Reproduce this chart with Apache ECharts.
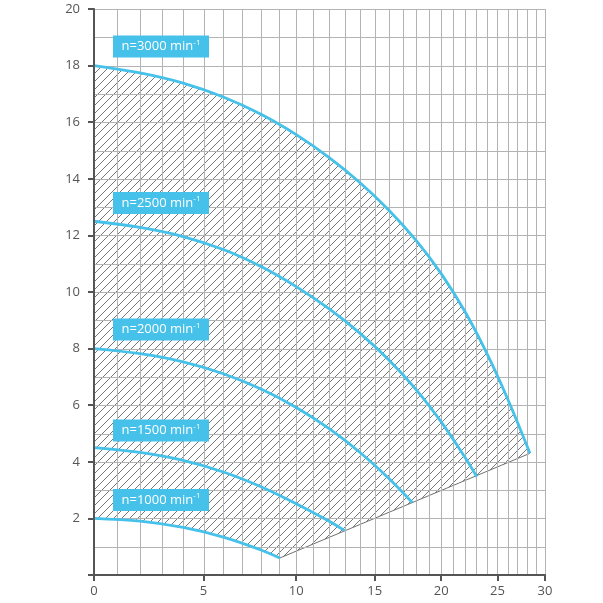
<!DOCTYPE html>
<html>
<head>
<meta charset="utf-8">
<script src="https://cdn.jsdelivr.net/npm/echarts@6/dist/echarts.min.js"></script>
<style>
  html, body { margin: 0; padding: 0; background: #fff; }
  #chart { width: 603px; height: 603px; }
</style>
</head>
<body>
<div id="chart"></div>
<script>
// flow axis is drawn on a compressed scale: u = 1 - exp(-Q/30)
const toU = q => 1 - Math.exp(-q / 30);
const fromU = u => -30 * Math.log(1 - u);

const xTickLabels = [0, 5, 10, 15, 20, 25, 30];
const xGridValues = [0, 1, 2, 3, 4, 5, 6, 7, 8, 9, 10, 11, 12, 13, 14, 15, 16, 17, 18, 19, 20,
    21, 22, 23, 24, 25, 26, 27, 28, 29, 30];
const yGridValues = [0, 1, 2, 3, 4, 5, 6, 7, 8, 9, 10, 11, 12, 13, 14, 15, 16, 17, 18, 19, 20];

const speeds = [3000, 2500, 2000, 1500, 1000];

// [flow, head]
const curve3000 = [[0, 18], [2, 17.74], [4, 17.38], [6, 16.89], [8, 16.28], [10, 15.56], [12, 14.75],
    [14, 13.86], [16, 12.89], [18, 11.83], [20, 10.65], [22, 9.32], [24, 7.83], [26, 6.23], [28.33, 4.3]];
const curve2500 = [[0, 12.5], [2, 12.28], [4, 11.96], [6, 11.5], [8, 10.9], [10, 10.19], [12, 9.4],
    [14, 8.54], [16, 7.6], [18, 6.56], [20, 5.41], [22, 4.17], [23.07, 3.47]];
const curve2000 = [[0, 8], [2, 7.82], [4, 7.53], [6, 7.11], [8, 6.57], [10, 5.92], [12, 5.17],
    [14, 4.33], [16, 3.41], [17.72, 2.56]];
const curve1500 = [[0, 4.5], [2, 4.33], [4, 4.05], [6, 3.64], [8, 3.12], [10, 2.52], [12, 1.9], [12.98, 1.57]];
const curve1000 = [[0, 2], [2, 1.9], [4, 1.68], [6, 1.34], [8, 0.885], [9.05, 0.6]];

const curves = [curve3000, curve2500, curve2000, curve1500, curve1000];

const BLUE = '#45c1ea';
const SMOOTH = 0.35;

const mapPts = pts => pts.map(p => [toU(p[0]), p[1]]);

function makeHatch() {
    const s = 8;
    const c = document.createElement('canvas');
    c.width = s;
    c.height = s;
    const ctx = c.getContext('2d');
    ctx.strokeStyle = '#767676';
    ctx.lineWidth = 1;
    ctx.beginPath();
    ctx.moveTo(0, s); ctx.lineTo(s, 0);
    ctx.moveTo(-s / 2, s / 2); ctx.lineTo(s / 2, -s / 2);
    ctx.moveTo(s / 2, s * 1.5); ctx.lineTo(s * 1.5, s / 2);
    ctx.stroke();
    return c;
}

const chart = echarts.init(document.getElementById('chart'), null, { renderer: 'canvas' });

const end1000 = curve1000[curve1000.length - 1];
const end3000 = curve3000[curve3000.length - 1];

const series = [
    {   // hatched operating field (under 3000 curve)
        type: 'line', data: mapPts(curve3000), smooth: SMOOTH, symbol: 'none', silent: true, z: 1,
        lineStyle: { width: 0, opacity: 0 },
        areaStyle: { color: { image: makeHatch(), repeat: 'repeat' }, opacity: 1 }
    },
    {   // blank out below 1000 curve
        type: 'line', data: mapPts(curve1000), smooth: SMOOTH, symbol: 'none', silent: true, z: 2,
        lineStyle: { width: 0, opacity: 0 },
        areaStyle: { color: '#fff', opacity: 1 }
    },
    {   // blank out below the limit line
        type: 'line', data: mapPts([end1000, end3000]), symbol: 'none', silent: true, z: 2,
        lineStyle: { color: '#707070', width: 1 },
        areaStyle: { color: '#fff', opacity: 1 }
    },
    {   // vertical grid
        type: 'custom', silent: true, z: 3,
        data: xGridValues.map(q => [toU(q), 0]),
        renderItem: (params, api) => {
            const a = api.coord([api.value(0), 0]);
            const b = api.coord([api.value(0), 20]);
            const x = Math.round(a[0]) + 0.5;
            return { type: 'line', shape: { x1: x, y1: a[1], x2: x, y2: b[1] },
                style: { stroke: '#b3b3b3', lineWidth: 1 } };
        }
    },
    {   // horizontal grid
        type: 'custom', silent: true, z: 3,
        data: yGridValues.map(v => [0, v]),
        renderItem: (params, api) => {
            const a = api.coord([0, api.value(1)]);
            const b = api.coord([toU(30), api.value(1)]);
            const y = Math.round(a[1]) + 0.5;
            return { type: 'line', shape: { x1: a[0], y1: y, x2: b[0], y2: y },
                style: { stroke: '#b3b3b3', lineWidth: 1 } };
        }
    }
];

curves.forEach((c, i) => {
    series.push({
        name: 'n=' + speeds[i], type: 'line', data: mapPts(c), smooth: SMOOTH, symbol: 'none',
        silent: true, z: 4,
        lineStyle: { color: BLUE, width: 2.8, cap: 'butt' }
    });
});

const labelTops = [35.5, 192, 318.5, 419.5, 489];

const option = {
    backgroundColor: '#fff',
    animation: false,
    grid: { left: 94, top: 9, width: 451, height: 566, containLabel: false },
    xAxis: {
        type: 'value', min: 0, max: toU(30), z: 10,
        axisLine: { lineStyle: { color: '#555', width: 2 } },
        axisTick: { customValues: xTickLabels.map(toU), length: 6, lineStyle: { color: '#555', width: 2 } },
        axisLabel: {
            customValues: xTickLabels.map(toU), margin: 10,
            color: '#555', fontSize: 13, fontFamily: 'Open Sans',
            formatter: v => String(Math.round(fromU(v)))
        },
        splitLine: { show: false }
    },
    yAxis: {
        type: 'value', min: 0, max: 20, interval: 2, z: 10,
        axisLine: { show: true, lineStyle: { color: '#555', width: 2 } },
        axisTick: { show: true, length: 6, lineStyle: { color: '#555', width: 2 } },
        axisLabel: {
            margin: 14, color: '#555', fontSize: 13, fontFamily: 'Open Sans',
            formatter: v => (v === 0 ? '' : String(v))
        },
        splitLine: { show: false }
    },
    graphic: speeds.map((s, i) => ({
        type: 'group', left: 113, top: labelTops[i], z: 100, zlevel: 1,
        children: [
            { type: 'rect', z: 100, zlevel: 1, shape: { x: 0, y: 0, width: 96, height: 22 }, style: { fill: BLUE } },
            {
                type: 'text', z: 101, zlevel: 1, x: 48, y: 11,
                style: {
                    text: '{t|n=' + s + ' min}{s|-1}',
                    align: 'center', verticalAlign: 'middle',
                    rich: {
                        t: { fontSize: 13, fontFamily: 'Open Sans', fill: '#fff', color: '#fff' },
                        s: { fontSize: 8, fontFamily: 'Open Sans', fill: '#fff', color: '#fff', padding: [0, 0, 8, 0] }
                    }
                }
            }
        ]
    })),
    series: series
};

chart.setOption(option);
</script>
</body>
</html>
